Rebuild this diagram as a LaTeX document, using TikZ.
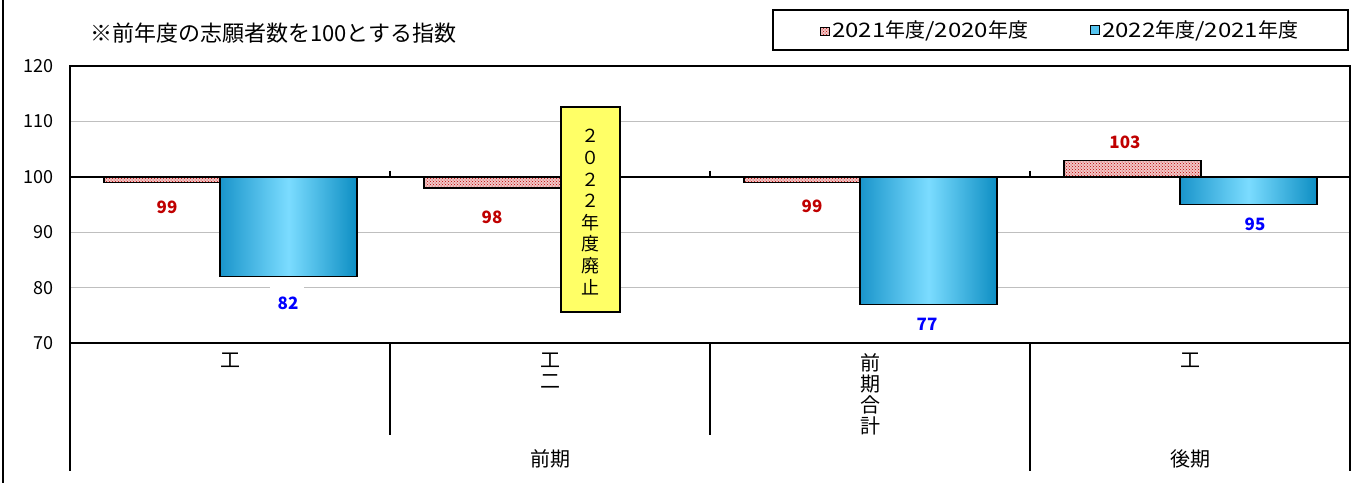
\documentclass[tikz,border=0pt]{standalone}
\usepackage{fontspec}
\setmainfont{Noto Sans CJK JP}
\usetikzlibrary{patterns}
\definecolor{lblred}{HTML}{C00000}
\definecolor{lblblue}{HTML}{0000FF}
\definecolor{dotred}{HTML}{C00000}
\definecolor{blueL}{HTML}{1A95CB}
\definecolor{blueM}{HTML}{7BDCFF}
\definecolor{blueR}{HTML}{0D8EC3}
\definecolor{legblue}{HTML}{55C3EE}
\definecolor{gridgray}{HTML}{BFBFBF}
\definecolor{boxyellow}{HTML}{FFFF66}
\newcommand\widedig[1]{\scalebox{1.2}[1]{#1}}
\begin{document}
\begin{tikzpicture}[x=1pt,y=-1pt,
  redbase/.style={fill=dotred!22},
  redbar/.style={pattern=crosshatch dots, pattern color=dotred},
  barline/.style={draw=black, line width=1.2pt},
  bluebar/.style={draw=black, line width=1.2pt, left color=blueL, right color=blueR, middle color=blueM},
  grid/.style={draw=gridgray, line width=1pt},
  frame/.style={draw=black, line width=1.8pt},
  divider/.style={draw=black, line width=1.6pt},
  ticklbl/.style={anchor=east, inner sep=0pt, font=\fontsize{18}{18}\selectfont},
  redlbl/.style={inner sep=0pt, text=lblred, font=\bfseries\fontsize{17}{17}\selectfont},
  bluelbl/.style={inner sep=0pt, text=lblblue, font=\bfseries\fontsize{17}{17}\selectfont},
  catlbl/.style={anchor=north, align=center, inner sep=0pt, font=\fontsize{20}{21}\selectfont},
  grplbl/.style={inner sep=0pt, font=\fontsize{20}{20}\selectfont},
  legtext/.style={anchor=west, inner sep=0pt, font=\fontsize{20}{20}\selectfont}]
\useasboundingbox (0,0) rectangle (1357,483);
\fill[white] (0,0) rectangle (1357,483);
% outer left edge
\draw[line width=1.5pt] (3,0) -- (3,483);
% title
\node[anchor=west, inner sep=0pt, font=\fontsize{22}{22}\selectfont] (title) at (90,33) {※前年度の志願者数を100とする指数};
% legend
\draw[line width=1.3pt] (773,10) rectangle (1348,50);
\fill[redbase] (820,27) rectangle (829,35);
\fill[redbar] (820,27) rectangle (829,35);
\draw[line width=0.8pt] (820,27) rectangle (829,35);
\node[legtext] (leg1) at (832,31) {\widedig{2021}年度\widedig{/2020}年度};
\draw[line width=0.8pt, fill=legblue] (1090,25) rectangle (1099,34);
\node[legtext] (leg2) at (1102,31) {\widedig{2022}年度\widedig{/2021}年度};
% gridlines
\draw[grid] (70,121.4) -- (1350,121.4);
\draw[grid] (70,232.2) -- (1350,232.2);
\draw[grid] (70,287.6) -- (270,287.6);
\draw[grid] (304,287.6) -- (1350,287.6);
% red bars
\foreach \ax/\ay/\bx/\by in {104/176.8/241/182.3, 424/176.8/561/187.9, 744/176.8/881/182.3, 1064/160.2/1201/176.8}{
  \fill[redbase] (\ax,\ay) rectangle (\bx,\by);
  \fill[redbar] (\ax,\ay) rectangle (\bx,\by);
  \draw[barline] (\ax,\ay) rectangle (\bx,\by);
}
% blue bars
\shade[bluebar] (220,176.8) rectangle (357,276.5);
\shade[bluebar] (860,176.8) rectangle (997,304.2);
\shade[bluebar] (1180,176.8) rectangle (1317,204.5);
\draw[barline] (220,176.8) rectangle (357,276.5);
\draw[barline] (860,176.8) rectangle (997,304.2);
\draw[barline] (1180,176.8) rectangle (1317,204.5);
% axis at 100 with ticks
\draw[line width=1.6pt] (70,176.8) -- (1350,176.8);
\foreach \xx in {390,710,1030} \draw[line width=1.4pt] (\xx,170.5) -- (\xx,176.8);
% plot frame
\draw[frame] (70,66) rectangle (1350,343);
% category area dividers
\draw[divider] (70,343) -- (70,471);
\draw[divider] (390,343) -- (390,435);
\draw[divider] (710,343) -- (710,435);
\draw[divider] (1030,343) -- (1030,471);
\draw[divider] (1350,343) -- (1350,471);
% tick labels
\node[ticklbl] (t120) at (54,66) {120};
\node[ticklbl] (t110) at (54,121.4) {110};
\node[ticklbl] (t100) at (54,176.8) {100};
\node[ticklbl] (t90) at (54,232.2) {90};
\node[ticklbl] (t80) at (54,287.6) {80};
\node[ticklbl] (t70) at (54,343) {70};
% data labels
\node[redlbl] (r1) at (167,207) {99};
\node[bluelbl] (b1) at (288,303) {82};
\node[redlbl] (r2) at (492,217) {98};
\node[redlbl] (r3) at (812,206) {99};
\node[bluelbl] (b3) at (927,324) {77};
\node[redlbl] (r4) at (1125,142) {103};
\node[bluelbl] (b4) at (1255,224) {95};
% abolished box
\draw[line width=1.2pt, fill=boxyellow] (561,107) rectangle (620,312);
\node[align=center, inner sep=0pt, font=\fontsize{18}{21.6}\selectfont] (abol) at (590.5,212) {２\\０\\２\\２\\年\\度\\廃\\止};
% category labels
\node[catlbl] (c1) at (230,353) {工};
\node[catlbl] (c2) at (550,353) {工\\二};
\node[catlbl] (c3) at (870,353) {前\\期\\合\\計};
\node[catlbl] (c4) at (1190,353) {工};
\node[grplbl] (g1) at (550,459) {前期};
\node[grplbl] (g2) at (1190,459) {後期};
\end{tikzpicture}
\end{document}
